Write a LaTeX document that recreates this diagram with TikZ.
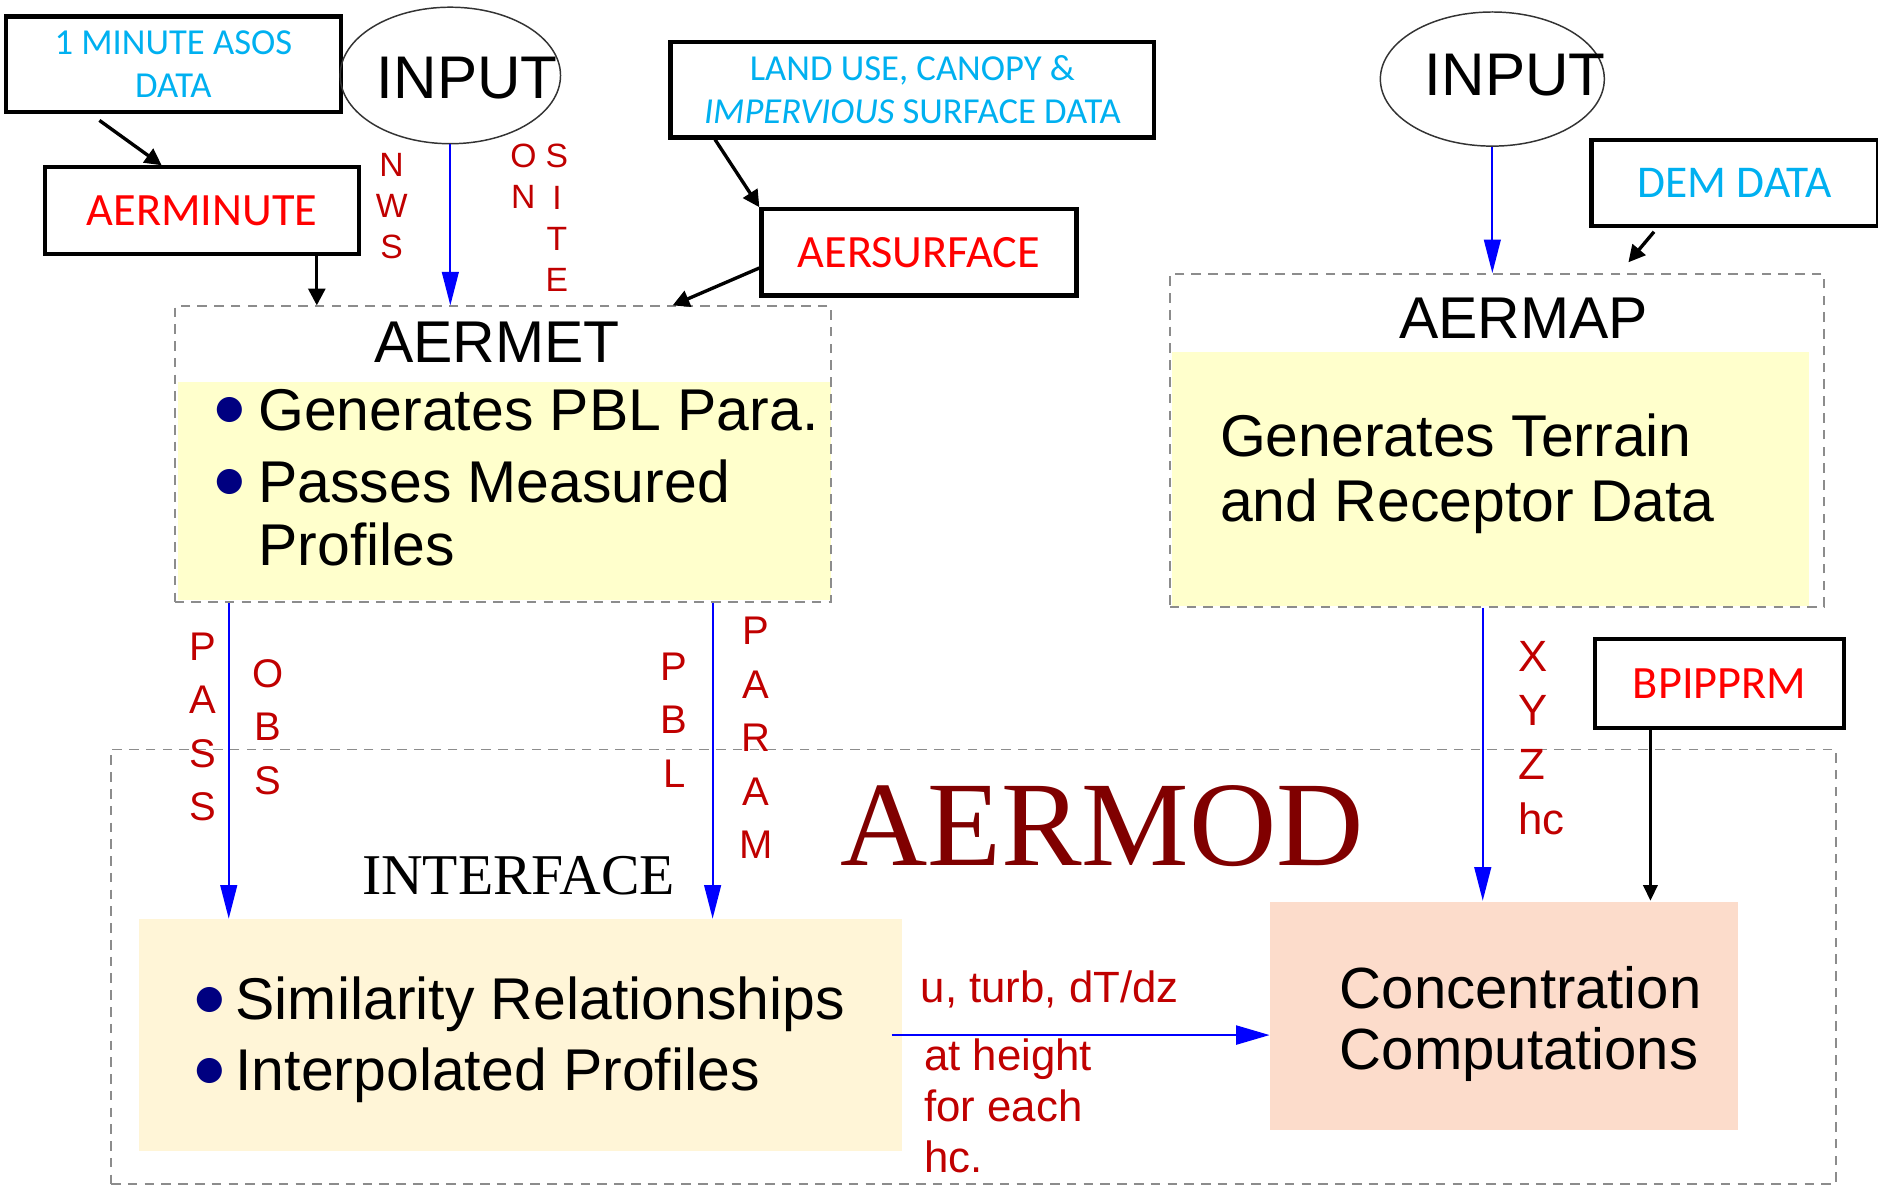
\documentclass[tikz,border=0pt]{standalone}
\usepackage{fontspec}
\setmainfont{Liberation Sans}
\newfontfamily\calfont{Carlito}
\newfontfamily\serfont{Liberation Serif}
\newfontfamily\dotfont{DejaVu Sans}
\usetikzlibrary{arrows.meta,shapes.geometric,positioning}
\definecolor{datacyan}{HTML}{00B0F0}
\definecolor{toolred}{HTML}{FF0000}
\definecolor{lblred}{HTML}{C00000}
\definecolor{modred}{HTML}{800000}
\definecolor{metyellow}{HTML}{FFFFCC}
\definecolor{ifcream}{HTML}{FFF5D7}
\definecolor{concpink}{HTML}{FCDCCB}
\definecolor{bulnavy}{HTML}{000080}
\definecolor{dashgray}{HTML}{8C8C8C}
\newcommand{\bul}[1]{\makebox[#1][l]{\hspace*{-0.15mm}\raisebox{0.95mm}{\dotfont\fontsize{7.8}{8}\selectfont\textcolor{bulnavy}{●}}}}
\tikzset{
  databox/.style={draw, line width=1pt, anchor=north west, inner sep=0pt, align=center,
    text=datacyan, font=\calfont\fontsize{8.7}{10.3}\selectfont},
  toolbox/.style={draw, line width=1pt, anchor=north west, inner sep=0pt,
    text=toolred, font=\calfont\fontsize{11}{13}\selectfont},
  inputell/.style={ellipse, draw=black!80, line width=0.35pt, inner sep=0pt},
  inputtxt/.style={inner sep=0pt, font=\fontsize{14.3}{16}\selectfont},
  modbox/.style={draw=dashgray, line width=0.45pt, dash pattern=on 0.8mm off 0.6mm,
    anchor=north west, inner sep=0pt},
  bodyfill/.style={anchor=north west, inner sep=0pt},
  titletxt/.style={inner sep=0pt, font=\fontsize{14}{16}\selectfont},
  bodytxt/.style={anchor=north west, inner sep=0pt, align=left},
  letters/.style={inner sep=0pt, align=center, text=lblred},
  flowlbl/.style={inner sep=0pt, align=left, text=lblred, font=\fontsize{10.4}{12.1}\selectfont},
  bluearrow/.style={draw=blue, line width=0.45pt, -{Triangle[length=2.8mm,width=1.4mm]}},
  dataarrow/.style={line width=0.8pt, -{Triangle[length=1.4mm,width=1.4mm]}},
  bpiparrow/.style={line width=0.6pt, -{Triangle[length=1.3mm,width=1.2mm]}}
}
\begin{document}
\begin{tikzpicture}[x=0.1mm, y=-0.1mm]
\useasboundingbox (0,0) rectangle (1568,989);

% outer AERMOD frame
\node[modbox, minimum width=144mm, minimum height=36.3mm] (aermod) at (92,625) {};
\node[text=modred, inner sep=0pt, font=\serfont\fontsize{28.7}{32}\selectfont] (aermodtitle) at (920,690) {AERMOD};
\node[inner sep=0pt, font=\serfont\fontsize{13.7}{15}\selectfont] (iftitle) at (433,731) {INTERFACE};

% data and helper programs
\node[databox, minimum width=28mm, minimum height=8mm] (asos) at (3,12) {1 MINUTE ASOS\\DATA};
\node[toolbox, minimum width=26.2mm, minimum height=7.2mm] (aerminute) at (36,138) {AERMINUTE};
\node[databox, minimum width=40.4mm, minimum height=8mm] (landuse) at (558,33) {LAND USE, CANOPY \&\\\textit{IMPERVIOUS} SURFACE DATA};
\node[toolbox, minimum width=26.3mm, minimum height=7.2mm] (aersurface) at (634,173) {AERSURFACE};
\node[databox, minimum width=23.9mm, minimum height=7.2mm, font=\calfont\fontsize{10.8}{13}\selectfont] (dem) at (1327,115) {DEM DATA};
\node[toolbox, minimum width=20.8mm, minimum height=7.4mm] (bpip) at (1330,532) {BPIPPRM};

% inputs
\node[inputell, minimum width=18.4mm, minimum height=11.4mm] (input1) at (376,63) {};
\node[inputtxt] (input1txt) at (390,65) {INPUT};
\node[inputell, minimum width=18.7mm, minimum height=11.2mm] (input2) at (1246,66) {};
\node[inputtxt] (input2txt) at (1265,63) {INPUT};

% AERMET
\node[bodyfill, fill=metyellow, minimum width=54.5mm, minimum height=18.2mm] (aermetbody) at (148,318) {};
\node[modbox, minimum width=54.8mm, minimum height=24.7mm] (aermet) at (145,255) {};
\node[titletxt] (aermettitle) at (415,286) {AERMET};
\node[bodytxt, font=\fontsize{14}{15.1}\selectfont] (aermettext) at ([shift={(3.3mm,-0.6mm)}]aermetbody.north west)
  {\bul{3.4mm}Generates PBL Para.\\[2pt]\bul{3.4mm}Passes Measured\\\hspace*{3.4mm}Profiles};

% AERMAP
\node[bodyfill, fill=metyellow, minimum width=53.2mm, minimum height=21.2mm] (aermapbody) at (978,293) {};
\node[modbox, minimum width=54.6mm, minimum height=27.8mm] (aermap) at (976,228) {};
\node[titletxt] (aermaptitle) at (1272,266) {AERMAP};
\node[bodytxt, font=\fontsize{14}{15.4}\selectfont] (aermaptext) at ([shift={(4mm,-5.2mm)}]aermapbody.north west)
  {Generates Terrain\\and Receptor Data};

% interface and concentration boxes
\node[bodyfill, fill=ifcream, minimum width=63.7mm, minimum height=19.3mm] (interface) at (115,767) {};
\node[bodytxt, font=\fontsize{14}{16.8}\selectfont] (iftext) at ([shift={(4.9mm,-4.8mm)}]interface.north west)
  {\bul{3.2mm}Similarity Relationships\\\bul{3.2mm}Interpolated Profiles};
\node[bodyfill, fill=concpink, minimum width=39mm, minimum height=19.1mm] (conc) at (1060,752) {};
\node[bodytxt, font=\fontsize{13.8}{14.5}\selectfont] (conctext) at ([shift={(5.8mm,-5.4mm)}]conc.north west)
  {Concentration\\Computations};

% stacked labels
\node[letters, font=\fontsize{8}{9.8}\selectfont] (nws) at (327,172) {N\\W\\S};
\node[letters, font=\fontsize{8}{9.8}\selectfont] (onlbl) at (437,147) {O\\N};
\node[letters, font=\fontsize{8}{9.8}\selectfont] (sitelbl) at (465,182) {S\\I\\T\\E};
\node[letters, font=\fontsize{9.5}{12.7}\selectfont] (passlbl) at (169,607) {P\\A\\S\\S};
\node[letters, font=\fontsize{9.5}{12.7}\selectfont] (obslbl) at (224,607) {O\\B\\S};
\node[letters, font=\fontsize{9.5}{12.7}\selectfont] (pbllbl) at (563,601) {P\\B\\L};
\node[letters, font=\fontsize{9.5}{12.7}\selectfont] (paramlbl) at (631,616) {P\\A\\R\\A\\M};
\node[letters, align=left, anchor=west, font=\fontsize{10.4}{12.9}\selectfont] (xyzlbl) at (1267,616) {X\\Y\\Z\\hc};
\node[flowlbl, anchor=west] (flowtop) at (768,826) {u, turb, dT/dz};
\node[flowlbl, anchor=north west] (flowbot) at (771,867) {at height\\for each\\hc.};

% connectors
\draw[bluearrow] (input1) -- (input1 |- aermet.north);
\draw[bluearrow] (input2) -- (input2 |- aermap.north);
\draw[dataarrow] ([xshift=8mm,yshift=-0.5mm]asos.south west) -- ([xshift=9.9mm]aerminute.north west);
\coordinate (minfoot) at ([xshift=-3.7mm]aerminute.south east);
\draw[dataarrow] (minfoot) -- (minfoot |- aermet.north);
\draw[dataarrow] ([xshift=3.9mm]landuse.south west) -- (aersurface.north west);
\draw[dataarrow] ([yshift=-1.3mm]aersurface.west) -- ([xshift=-13.3mm]aermet.north east);
\draw[dataarrow] ([xshift=5.4mm,yshift=-0.3mm]dem.south west) -- ([xshift=-16.4mm,yshift=0.9mm]aermap.north east);
\coordinate (passfoot) at ([xshift=4.6mm]aermet.south west);
\draw[bluearrow] (passfoot) -- (passfoot |- interface.north);
\coordinate (pblfoot) at ([xshift=45mm]aermet.south west);
\draw[bluearrow] (pblfoot) -- (pblfoot |- interface.north);
\coordinate (xyzfoot) at ([xshift=26.2mm]aermap.south west);
\draw[bluearrow] (xyzfoot) -- (xyzfoot |- conc.north);
\coordinate (bpipfoot) at ([xshift=4.8mm]bpip.south west);
\draw[bpiparrow] (bpipfoot) -- (bpipfoot |- conc.north);
\draw[bluearrow, -{Triangle[length=2.8mm,width=1.6mm]}] ([xshift=-0.9mm]interface.east) -- (interface.east -| conc.west);
\end{tikzpicture}
\end{document}
